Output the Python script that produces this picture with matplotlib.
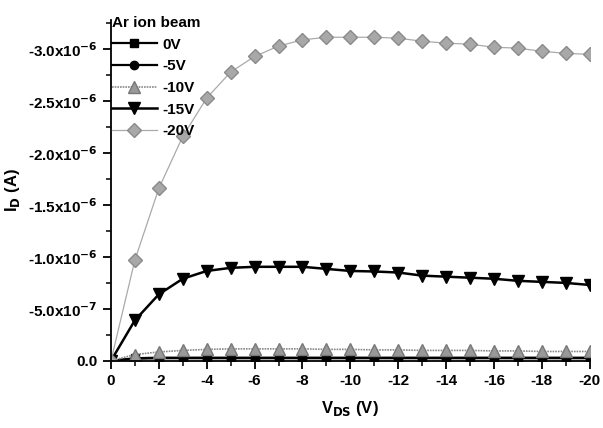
#!/usr/bin/env python3
from matplotlib import pyplot as plt
from matplotlib.ticker import MultipleLocator, FuncFormatter
import numpy as np

plt.rcParams['font.family'] = ['Liberation Sans', 'DejaVu Sans']
plt.rcParams['font.weight'] = 'bold'
plt.rcParams['mathtext.default'] = 'bf'

# drain voltage (V)
vds = [0, -1, -2, -3, -4, -5, -6, -7, -8, -9, -10,
       -11, -12, -13, -14, -15, -16, -17, -18, -19, -20]

# drain current in units of 1e-6 A (values are negative currents)
id_0v = [0, 0.025, 0.03, 0.03, 0.03, 0.03, 0.03, 0.03, 0.03, 0.03, 0.03,
         0.03, 0.03, 0.03, 0.03, 0.03, 0.03, 0.03, 0.03, 0.03, 0.03]
id_5v = [0, 0.02, 0.025, 0.025, 0.025, 0.025, 0.025, 0.025, 0.025, 0.025, 0.025,
         0.025, 0.025, 0.025, 0.025, 0.025, 0.025, 0.025, 0.025, 0.025, 0.025]
id_10v = [0, 0.06, 0.085, 0.10, 0.11, 0.115, 0.115, 0.115, 0.115, 0.11, 0.11,
          0.105, 0.105, 0.10, 0.10, 0.10, 0.095, 0.095, 0.09, 0.09, 0.09]
id_15v = [0, 0.39, 0.64, 0.79, 0.865, 0.895, 0.905, 0.905, 0.905, 0.885, 0.865,
          0.86, 0.85, 0.82, 0.81, 0.80, 0.79, 0.77, 0.76, 0.75, 0.73]
id_20v = [0, 0.97, 1.66, 2.16, 2.53, 2.78, 2.93, 3.03, 3.09, 3.115, 3.115,
          3.115, 3.106, 3.077, 3.058, 3.048, 3.019, 3.01, 2.98, 2.96, 2.95]

labels = ['0V', '-5V', '-10V', '-15V', '-20V']

fig = plt.figure(figsize=(6.03, 4.28), dpi=100)
ax = fig.add_axes([0.184, 0.157, 0.794, 0.796])

def neg(vals):
    return -np.array(vals) * 1e-6

ax.plot(vds, neg(id_0v), color='k', lw=1.6, marker='s', ms=6, label=labels[0])
ax.plot(vds, neg(id_5v), color='k', lw=1.6, marker='o', ms=6, label=labels[1])
ax.plot(vds, neg(id_10v), color='#888888', lw=1.2, ls=(0, (1, 0.6)), marker='^', ms=8,
        mfc='#999999', mec='#777777', label=labels[2])
ax.plot(vds, neg(id_15v), color='k', lw=1.8, marker='v', ms=9, label=labels[3])
ax.plot(vds, neg(id_20v), color='#aaaaaa', lw=0.9, marker='D', ms=7,
        mfc='#a8a8a8', mec='#8a8a8a', label=labels[4])

ax.set_xlim(0, -20)
ax.set_ylim(0, -3.28e-6)

ax.xaxis.set_major_locator(MultipleLocator(2))
ax.xaxis.set_minor_locator(MultipleLocator(1))
ax.yaxis.set_major_locator(MultipleLocator(5e-7))
ax.yaxis.set_minor_locator(MultipleLocator(2.5e-7))

def yfmt(v, pos):
    if abs(v) < 1e-12:
        return '0.0'
    exp = int(np.floor(np.log10(abs(v))))
    mant = v / 10 ** exp
    return r'%.1fx10$^{%d}$' % (mant, exp)

ax.yaxis.set_major_formatter(FuncFormatter(yfmt))
ax.xaxis.set_major_formatter(FuncFormatter(lambda v, p: '%d' % v))

for s in ['top', 'right']:
    ax.spines[s].set_visible(False)
for s in ['left', 'bottom']:
    ax.spines[s].set_linewidth(1.3)

ax.tick_params(which='major', direction='out', length=6, width=1.3, labelsize=11)
ax.tick_params(which='minor', direction='out', length=3.5, width=1.1)

ax.set_xlabel(r'V$_{DS}$ (V)', fontsize=12, fontweight='bold', labelpad=8)
ax.set_ylabel(r'I$_{D}$ (A)', fontsize=12, fontweight='bold')
ax.yaxis.set_label_coords(-0.185, 0.5)

leg = ax.legend(title='Ar ion beam', loc='upper left', bbox_to_anchor=(-0.01, 1.03),
                frameon=False, fontsize=11, handlelength=2.9, handletextpad=0.4,
                labelspacing=0.5, borderaxespad=0)
leg.get_title().set_fontsize(11)
leg.get_title().set_fontweight('bold')
leg._legend_box.align = 'left'

plt.savefig('out.png', dpi=100)
